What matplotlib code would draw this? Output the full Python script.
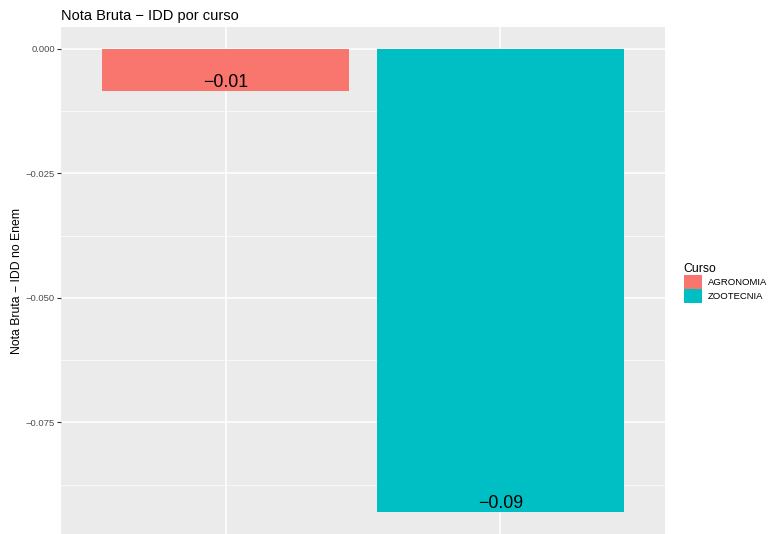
import numpy as np
import matplotlib
matplotlib.use("Agg")
import matplotlib.pyplot as plt
from matplotlib.patches import Patch

cursos = ["AGRONOMIA", "ZOOTECNIA"]
valores = [-0.0085, -0.0930]
cores = ["#F8766D", "#00BFC4"]
yticks = [0.0, -0.025, -0.05, -0.075]
ytick_labels = ["0.000", "\u22120.025", "\u22120.050", "\u22120.075"]

plt.rcParams["font.family"] = ["Liberation Sans", "DejaVu Sans"]

fig = plt.figure(figsize=(7.69, 5.34), dpi=100)
ax = fig.add_axes([61 / 769, 0.0, (665 - 61) / 769, (534 - 27) / 534])
ax.set_facecolor("#EBEBEB")

x = np.arange(1, len(cursos) + 1)
ax.bar(x, valores, width=0.9, color=cores, zorder=3)
for xi, v in zip(x, valores):
    ax.text(xi, v, f"{round(v, 2):.2f}".replace("-", "\u2212"),
            ha="center", va="bottom", fontsize=12.8, color="black", zorder=4)

ax.set_xlim(0.4, 2.6)
ax.set_ylim(-0.0974, 0.0044)
ax.set_xticks(x)
ax.set_xticklabels([])
ax.tick_params(axis="x", length=0)
ax.set_yticks(yticks)
ax.set_yticklabels(ytick_labels, fontsize=6.8, color="#4D4D4D")
ax.set_yticks([-0.0125, -0.0375, -0.0625, -0.0875], minor=True)
ax.tick_params(axis="y", which="major", length=3, color="#333333", width=0.8, pad=1.5)
ax.tick_params(axis="y", which="minor", length=0)
ax.grid(which="major", color="white", linewidth=1.1, zorder=1)
ax.grid(which="minor", axis="y", color="white", linewidth=0.5, zorder=1)
for s in ax.spines.values():
    s.set_visible(False)

ax.set_ylabel("Nota Bruta \u2212 IDD no Enem", fontsize=8.8, labelpad=2)
ax.set_title("Nota Bruta \u2212 IDD por curso", loc="left", fontsize=10.5, pad=5)

handles = [Patch(facecolor=c, edgecolor="none") for c in cores]
leg = fig.legend(handles, cursos, title="Curso", loc="center left",
                 bbox_to_anchor=(676 / 769, 1 - 283 / 534), frameon=False,
                 fontsize=6.8, title_fontsize=8.8, handlelength=2.0,
                 handleheight=1.9, handletextpad=0.6, labelspacing=0.05,
                 borderpad=0.3)
leg._legend_box.align = "left"

fig.savefig("out.png", dpi=100)
